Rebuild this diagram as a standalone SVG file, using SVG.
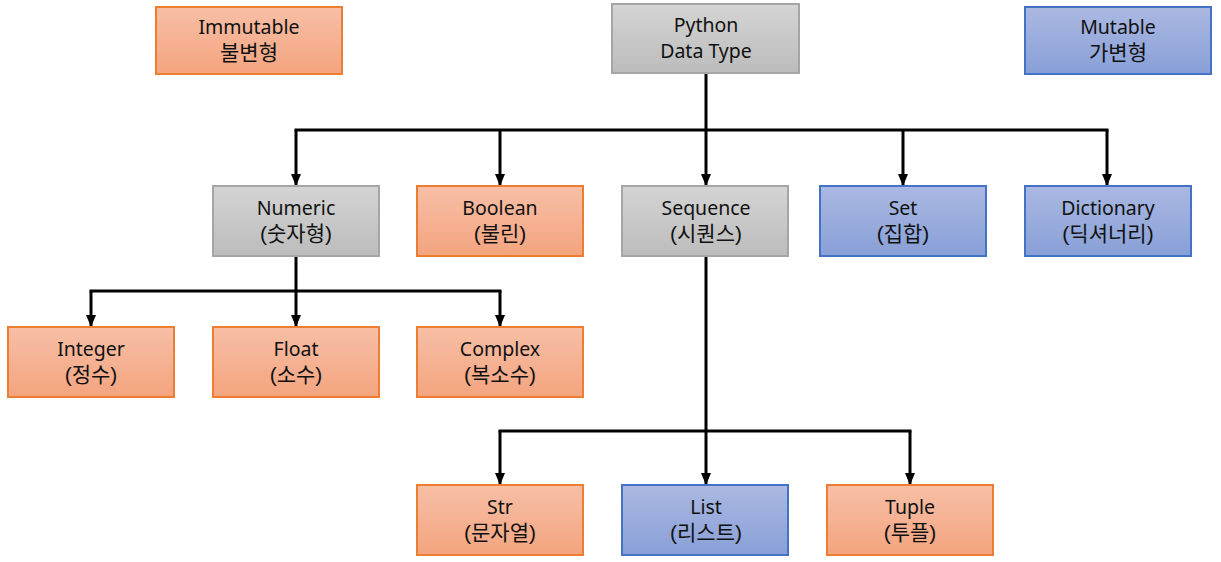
<svg xmlns="http://www.w3.org/2000/svg" width="1221" height="562" viewBox="0 0 1221 562">
<defs>
<linearGradient id="gO" x1="0" y1="0" x2="0" y2="1"><stop offset="0" stop-color="#F7BFA6"/><stop offset="1" stop-color="#F4A47F"/></linearGradient>
<linearGradient id="gG" x1="0" y1="0" x2="0" y2="1"><stop offset="0" stop-color="#D4D4D4"/><stop offset="1" stop-color="#BCBCBC"/></linearGradient>
<linearGradient id="gB" x1="0" y1="0" x2="0" y2="1"><stop offset="0" stop-color="#ABB9E2"/><stop offset="1" stop-color="#889FD7"/></linearGradient>
<marker id="arr" viewBox="0 0 12 10" refX="12" refY="5" markerWidth="12" markerHeight="10" markerUnits="userSpaceOnUse" orient="auto">
<path d="M0,0 L12,5 L0,10 Z" fill="#000"/>
</marker>
<style>
.o{fill:url(#gO);stroke:#ED7D31;stroke-width:2}
.g{fill:url(#gG);stroke:#A5A5A5;stroke-width:2}
.b{fill:url(#gB);stroke:#4472C4;stroke-width:2}
text{font-family:"Noto Sans","Noto Sans CJK KR",sans-serif;font-size:19.5px;fill:#111;text-anchor:middle}
text.k{font-family:"Liberation Sans","Noto Sans CJK KR",sans-serif;font-size:21px}
.c{fill:none;stroke:#000;stroke-width:3}
.a{fill:none;stroke:#000;stroke-width:3;marker-end:url(#arr)}
</style>
</defs>
<g id="connectors">
<path class="c" d="M706,73 V130 M294.5,130 H1108.5"/>
<path class="a" d="M296,130 V186"/>
<path class="a" d="M500,130 V186"/>
<path class="a" d="M706,130 V186"/>
<path class="a" d="M903,130 V186"/>
<path class="a" d="M1107,130 V186"/>
<path class="c" d="M296,256 V291 M89.5,291 H501.5"/>
<path class="a" d="M91,291 V327"/>
<path class="a" d="M296,291 V327"/>
<path class="a" d="M500,291 V327"/>
<path class="c" d="M706,256 V431 M498.5,431 H911.5"/>
<path class="a" d="M500,431 V485"/>
<path class="a" d="M706,431 V485"/>
<path class="a" d="M910,431 V485"/>
</g>
<g id="immutable"><rect class="o" x="156" y="7" width="186" height="67"/><text x="249" y="34">Immutable</text><text class="k" x="249" y="60">불변형</text></g>
<g id="python"><rect class="g" x="612" y="4" width="187" height="69"/><text x="706" y="32">Python</text><text x="706" y="58">Data Type</text></g>
<g id="mutable"><rect class="b" x="1025" y="7" width="186" height="67"/><text x="1118" y="34">Mutable</text><text class="k" x="1118" y="60">가변형</text></g>
<g id="numeric"><rect class="g" x="213" y="186" width="166" height="70"/><text x="296" y="215">Numeric</text><text class="k" x="296" y="241">(숫자형)</text></g>
<g id="boolean"><rect class="o" x="417" y="186" width="166" height="70"/><text x="500" y="215">Boolean</text><text class="k" x="500" y="241">(불린)</text></g>
<g id="sequence"><rect class="g" x="622" y="186" width="166" height="70"/><text x="706" y="215">Sequence</text><text class="k" x="706" y="241">(시퀀스)</text></g>
<g id="set"><rect class="b" x="820" y="186" width="166" height="70"/><text x="903" y="215">Set</text><text class="k" x="903" y="241">(집합)</text></g>
<g id="dictionary"><rect class="b" x="1025" y="186" width="166" height="70"/><text x="1108" y="215">Dictionary</text><text class="k" x="1108" y="241">(딕셔너리)</text></g>
<g id="integer"><rect class="o" x="8" y="327" width="166" height="70"/><text x="91" y="356">Integer</text><text class="k" x="91" y="382">(정수)</text></g>
<g id="float"><rect class="o" x="213" y="327" width="166" height="70"/><text x="296" y="356">Float</text><text class="k" x="296" y="382">(소수)</text></g>
<g id="complex"><rect class="o" x="417" y="327" width="166" height="70"/><text x="500" y="356">Complex</text><text class="k" x="500" y="382">(복소수)</text></g>
<g id="str"><rect class="o" x="417" y="485" width="166" height="70"/><text x="500" y="514">Str</text><text class="k" x="500" y="540">(문자열)</text></g>
<g id="list"><rect class="b" x="622" y="485" width="166" height="70"/><text x="706" y="514">List</text><text class="k" x="706" y="540">(리스트)</text></g>
<g id="tuple"><rect class="o" x="827" y="485" width="166" height="70"/><text x="910" y="514">Tuple</text><text class="k" x="910" y="540">(투플)</text></g>
</svg>
